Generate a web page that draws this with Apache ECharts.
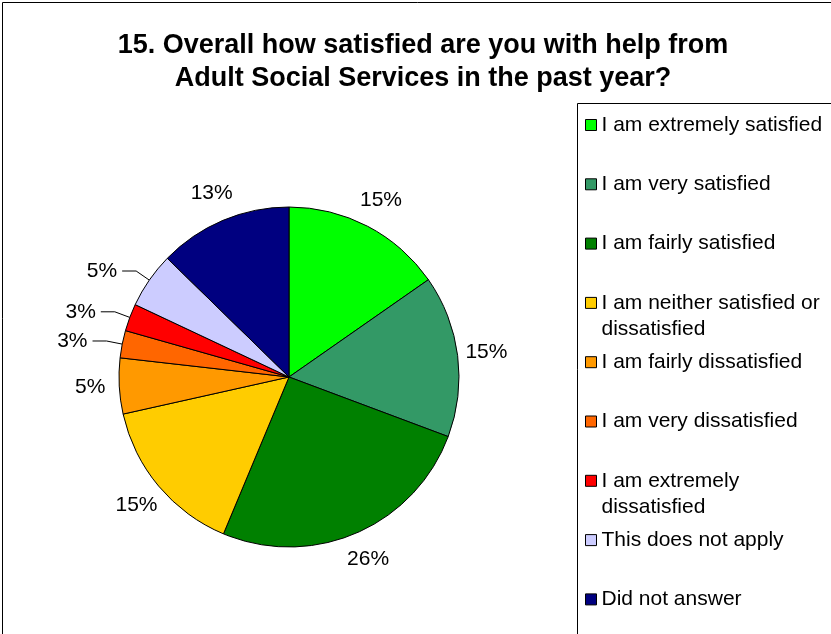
<!DOCTYPE html>
<html><head><meta charset="utf-8">
<script src="https://cdn.jsdelivr.net/npm/echarts@6/dist/echarts.min.js"></script>
<style>html,body{margin:0;padding:0;background:#fff}#c{width:831px;height:634px}</style>
</head><body><div id="c"></div>
<script>
const titleLines = ['15. Overall how satisfied are you with help from', 'Adult Social Services in the past year?'];
const categories = [
  'I am extremely satisfied',
  'I am very satisfied',
  'I am fairly satisfied',
  'I am neither satisfied or dissatisfied',
  'I am fairly dissatisfied',
  'I am very dissatisfied',
  'I am extremely dissatisfied',
  'This does not apply',
  'Did not answer'
];
const values = [15.3, 15.4, 25.6, 15.2, 5.3, 2.6, 2.6, 5.3, 12.7];
const colors = ['#00FF00', '#339966', '#008000', '#FFCC00', '#FF9900', '#FF6600', '#FF0000', '#CCCCFF', '#000080'];
const wrappedLegend = {
  'I am neither satisfied or dissatisfied': ['I am neither satisfied or', 'dissatisfied'],
  'I am extremely dissatisfied': ['I am extremely', 'dissatisfied']
};
const leaderLineItems = ['I am very dissatisfied', 'I am extremely dissatisfied', 'This does not apply'];

const FONT = "'Liberation Sans', Arial, sans-serif";
const legendFirstY = 124.5, legendStep = 59.3;
const pctFormatter = p => Math.round(p.percent) + '%';

const legends = categories.map((name, i) => {
  const lines = wrappedLegend[name] || [name];
  const two = lines.length > 1;
  const cy = legendFirstY + i * legendStep;
  return {
    data: [name],
    orient: 'vertical',
    left: 585,
    top: cy - 10,
    padding: 0,
    itemWidth: 11,
    itemHeight: 11,
    itemGap: 0,
    icon: 'rect',
    selectedMode: false,
    itemStyle: { borderColor: '#000', borderWidth: 1 },
    formatter: () => lines.map(l => '{t|' + l + '}').join('\n'),
    textStyle: {
      padding: two ? [26, 0, 0, 0] : 0,
      rich: { t: { fontSize: 21, lineHeight: 26, fontFamily: FONT, color: '#000' } }
    }
  };
});

const chart = echarts.init(document.getElementById('c'), null, { renderer: 'canvas' });
chart.setOption({
  animation: false,
  backgroundColor: '#fff',
  tooltip: { show: false },
  title: {
    text: titleLines.join('\n'),
    left: 423,
    top: 29,
    padding: 0,
    textAlign: 'center',
    textStyle: { fontSize: 27, fontWeight: 'bold', lineHeight: 33, fontFamily: FONT, color: '#000' }
  },
  legend: legends,
  graphic: [
    { type: 'rect', shape: { x: 2.5, y: 2.5, width: 840, height: 650 }, style: { fill: 'none', stroke: '#000', lineWidth: 1 }, silent: true, z: -10 },
    { type: 'rect', shape: { x: 577.5, y: 103.5, width: 300, height: 600 }, style: { fill: 'none', stroke: '#000', lineWidth: 1 }, silent: true, z: -10 }
  ],
  series: [{
    type: 'pie',
    center: [289, 377],
    radius: 170,
    startAngle: 90,
    clockwise: true,
    avoidLabelOverlap: true,
    itemStyle: { borderColor: '#000', borderWidth: 1 },
    label: {
      show: false,
      position: 'outside',
      fontSize: 21,
      fontFamily: FONT,
      color: '#000',
      formatter: pctFormatter
    },
    labelLine: { show: false, length: 16, length2: 14, lineStyle: { color: '#000', width: 1 } },
    emphasis: { disabled: true },
    data: categories.map((name, i) => {
      const lead = leaderLineItems.includes(name);
      return {
        name: name,
        value: values[i],
        itemStyle: { color: colors[i] },
        label: { show: lead },
        labelLine: { show: lead }
      };
    })
  }, {
    // transparent ring used only to place the percentage labels around the pie
    type: 'pie',
    center: [289, 377],
    radius: [184, 208],
    startAngle: 90,
    clockwise: true,
    silent: true,
    z: 1,
    itemStyle: { color: 'rgba(0,0,0,0)', borderWidth: 0 },
    label: {
      show: true,
      position: 'inside',
      fontSize: 21,
      fontFamily: FONT,
      color: '#000',
      formatter: pctFormatter
    },
    labelLine: { show: false },
    emphasis: { disabled: true },
    data: categories.map((name, i) => ({
      name: name,
      value: values[i],
      label: { show: !leaderLineItems.includes(name) }
    }))
  }]
});
</script>
</body></html>
